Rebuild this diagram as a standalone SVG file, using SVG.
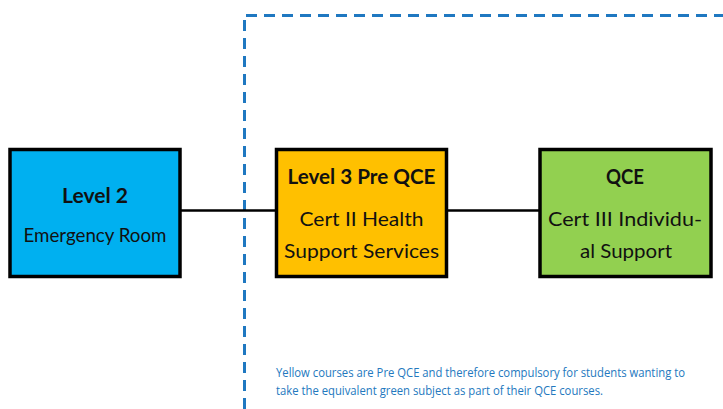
<svg xmlns="http://www.w3.org/2000/svg" width="723" height="409" viewBox="0 0 723 409">
<style>
.box{stroke:#000;stroke-width:3.5}
.t{font-family:Lato,"Open Sans",sans-serif;font-size:20px;fill:#111;text-anchor:middle}
.b{font-weight:bold}
.edge{stroke:#000;stroke-width:2.5;fill:none}
.dash{stroke:#1F78C1;stroke-width:3;fill:none;stroke-dasharray:11 7}
.note{font-family:"Open Sans",Lato,sans-serif;font-size:12px;fill:#2378BE}
</style>
<rect width="723" height="409" fill="#fff"/>
<g id="region">
<path class="dash" d="M246 15.5H723"/>
<path class="dash" d="M244.5 20V409"/>
</g>
<g id="connectors">
<line class="edge" x1="181" y1="210.5" x2="276" y2="210.5"/>
<line class="edge" x1="447" y1="210.5" x2="540" y2="210.5"/>
</g>
<g id="node-level2">
<rect class="box" x="10" y="149.5" width="170" height="127" fill="#00B0F0"/>
<text class="t b" x="95" y="203" textLength="66" lengthAdjust="spacingAndGlyphs">Level 2</text>
<text class="t" x="95" y="242" textLength="143" lengthAdjust="spacingAndGlyphs">Emergency Room</text>
</g>
<g id="node-level3">
<rect class="box" x="276.5" y="149.5" width="170" height="127" fill="#FFC000"/>
<text class="t b" x="361.5" y="184" textLength="148" lengthAdjust="spacingAndGlyphs">Level 3 Pre QCE</text>
<text class="t" x="361.5" y="226" textLength="124" lengthAdjust="spacingAndGlyphs">Cert II Health</text>
<text class="t" x="361.5" y="258" textLength="155" lengthAdjust="spacingAndGlyphs">Support Services</text>
</g>
<g id="node-qce">
<rect class="box" x="540" y="149.5" width="171" height="127" fill="#92D050"/>
<text class="t b" x="625" y="184" textLength="38" lengthAdjust="spacingAndGlyphs">QCE</text>
<text class="t" x="625" y="226" textLength="154" lengthAdjust="spacingAndGlyphs">Cert III Individu-</text>
<text class="t" x="626" y="258" textLength="92" lengthAdjust="spacingAndGlyphs">al Support</text>
</g>
<g id="note">
<text class="note" x="276" y="377" textLength="409" lengthAdjust="spacingAndGlyphs">Yellow courses are Pre QCE and therefore compulsory for students wanting to</text>
<text class="note" x="276" y="395" textLength="327" lengthAdjust="spacingAndGlyphs">take the equivalent green subject as part of their QCE courses.</text>
</g>
</svg>
